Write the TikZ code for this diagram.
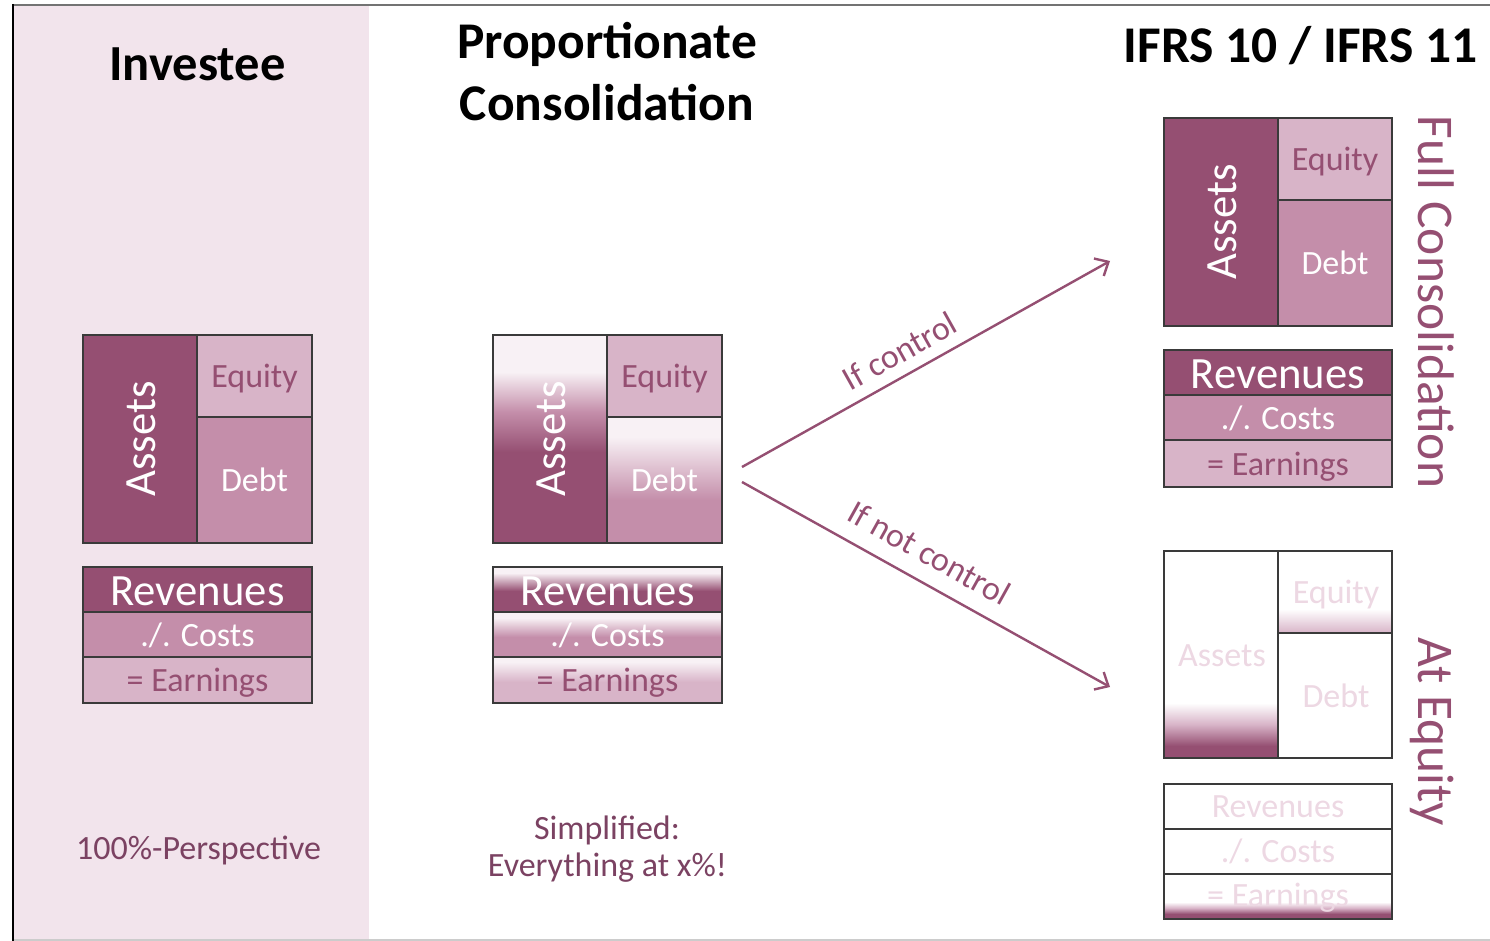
\documentclass[tikz,border=0pt]{standalone}
\usepackage{fontspec}
\setmainfont{Carlito}
\usetikzlibrary{arrows.meta}
\definecolor{dk}{HTML}{954F72}
\definecolor{md}{HTML}{C48EAA}
\definecolor{lt}{HTML}{D8B4C8}
\definecolor{wh}{HTML}{F8F1F5}
\definecolor{panel}{HTML}{F2E4EC}
\definecolor{fade}{HTML}{EDD8E3}
\definecolor{txt}{HTML}{7B4262}
\definecolor{edge}{HTML}{3A3A3A}
\tikzset{
  lbl/.style={inner sep=0pt, text height=21.9pt, text depth=0pt, font=\fontsize{34}{41}\selectfont},
  lblbig/.style={inner sep=0pt, text height=28.8pt, text depth=0pt, font=\fontsize{44.7}{54}\selectfont},
  vlbl/.style={inner sep=0pt, text height=33.2pt, text depth=0pt, font=\fontsize{51.5}{62}\selectfont, text=dk},
  ttl/.style={inner sep=0pt, text height=33.2pt, text depth=0pt, font=\fontsize{51.5}{62}\selectfont\bfseries, text=black},
  cellline/.style={draw=edge, line width=1.6pt},
  arr/.style={draw=dk, line width=2.4pt, -{Straight Barb[length=11pt,width=20pt,line width=2.4pt]}},
  arrlbl/.style={inner sep=0pt, font=\fontsize{34}{40}\selectfont, text=dk, sloped}
}
\begin{document}
\begin{tikzpicture}[x=1pt,y=-1pt]
\useasboundingbox (0,0) rectangle (1490,941);
% panel and frame
\fill[panel] (13,5) rectangle (369,940);
\draw[black!55, line width=2pt] (13,5) -- (1490,5);
\draw[black!20, line width=2pt] (13,940) -- (1490,940);
\draw[black, line width=2pt] (13,4) -- (13,941);

% titles
\node[ttl, font=\fontsize{50.5}{61}\selectfont\bfseries] (tInv) at (197.5,63.5) {Investee};
\node[ttl] (tProp1) at (607,41.5) {Proportionate};
\node[ttl] (tProp2) at (607,103.5) {Consolidation};
\node[ttl] (tIfrs) at (1300.5,46) {IFRS 10 / IFRS 11};

% ===== Column 1: Investee =====
\fill[dk] (83,335) rectangle (197,543);
\fill[lt] (197,335) rectangle (312,417);
\fill[md] (197,417) rectangle (312,543);
\fill[dk] (83,567) rectangle (312,612);
\fill[md] (83,612) rectangle (312,657);
\fill[lt] (83,657) rectangle (312,703);
\draw[cellline] (83,335) rectangle (312,543) (197,335) -- (197,543) (197,417) -- (312,417);
\draw[cellline] (83,567) rectangle (312,703) (83,612) -- (312,612) (83,657) -- (312,657);
\node[lblbig, text=white, rotate=90] (iAssets) at (141,439) {Assets};
\node[lbl, text=dk] (iEq) at (254.5,377) {Equity};
\node[lbl, text=white] (iDebt) at (254.5,480.5) {Debt};
\node[lblbig, text=white] (iRev) at (197.5,591) {Revenues};
\node[lbl, text=white] (iCost) at (197.5,635.5) {./. Costs};
\node[lbl, text=dk] (iEarn) at (197.5,681) {= Earnings};
\node[lbl, text=txt] (iPersp) at (198.5,849) {100\%-Perspective};

% ===== Column 2: Proportionate =====
\fill[wh] (493,335) rectangle (607,372);
\shade[top color=wh, bottom color=dk, middle color=md] (493,372) rectangle (607,452);
\fill[dk] (493,452) rectangle (607,543);
\fill[lt] (607,335) rectangle (722,417);
\fill[wh] (607,417) rectangle (722,437);
\shade[top color=wh, bottom color=md] (607,437) rectangle (722,500);
\fill[md] (607,500) rectangle (722,543);
\fill[wh] (493,567) rectangle (722,573);
\shade[top color=wh, bottom color=dk] (493,573) rectangle (722,591);
\fill[dk] (493,591) rectangle (722,612);
\fill[wh] (493,612) rectangle (722,618);
\shade[top color=wh, bottom color=md] (493,618) rectangle (722,637);
\fill[md] (493,637) rectangle (722,657);
\fill[wh] (493,657) rectangle (722,662);
\shade[top color=wh, bottom color=lt] (493,662) rectangle (722,682);
\fill[lt] (493,682) rectangle (722,703);
\draw[cellline] (493,335) rectangle (722,543) (607,335) -- (607,543) (607,417) -- (722,417);
\draw[cellline] (493,567) rectangle (722,703) (493,612) -- (722,612) (493,657) -- (722,657);
\node[lblbig, text=white, rotate=90] (pAssets) at (551,439) {Assets};
\node[lbl, text=dk] (pEq) at (664.5,377) {Equity};
\node[lbl, text=white] (pDebt) at (664.5,480.5) {Debt};
\node[lblbig, text=white] (pRev) at (607.5,591) {Revenues};
\node[lbl, text=white] (pCost) at (607.5,635.5) {./. Costs};
\node[lbl, text=dk] (pEarn) at (607.5,681) {= Earnings};
\node[lbl, text=txt] (pSimp1) at (607,829) {Simplified:};
\node[lbl, text=txt] (pSimp2) at (607.5,866) {Everything at x\%!};

% ===== Column 3: Full consolidation =====
\fill[dk] (1164,118) rectangle (1278,326);
\fill[lt] (1278,118) rectangle (1392,200);
\fill[md] (1278,200) rectangle (1392,326);
\fill[dk] (1164,350) rectangle (1392,395);
\fill[md] (1164,395) rectangle (1392,440);
\fill[lt] (1164,440) rectangle (1392,487);
\draw[cellline] (1164,118) rectangle (1392,326) (1278,118) -- (1278,326) (1278,200) -- (1392,200);
\draw[cellline] (1164,350) rectangle (1392,487) (1164,395) -- (1392,395) (1164,440) -- (1392,440);
\node[lblbig, text=white, rotate=90] (fAssets) at (1222,222) {Assets};
\node[lbl, text=dk] (fEq) at (1335,160) {Equity};
\node[lbl, text=white] (fDebt) at (1335,263.5) {Debt};
\node[lblbig, text=white] (fRev) at (1278,374) {Revenues};
\node[lbl, text=white] (fCost) at (1278,418.5) {./. Costs};
\node[lbl, text=dk] (fEarn) at (1278,464.5) {= Earnings};
\node[vlbl, rotate=-90] (fTitle) at (1435,302) {Full Consolidation};

% ===== Column 4: At equity =====
\fill[white] (1164,551) rectangle (1392,758);
\shade[top color=white, bottom color=dk, middle color=lt] (1164,703) rectangle (1278,746);
\fill[dk] (1164,746) rectangle (1278,758);
\shade[top color=white, bottom color=lt] (1278,609) rectangle (1392,633);
\shade[top color=white, bottom color=dk, middle color=lt] (1164,902) rectangle (1392,914);
\fill[dk] (1164,914) rectangle (1392,919);
\draw[cellline] (1164,551) rectangle (1392,758) (1278,551) -- (1278,758) (1278,633) -- (1392,633);
\draw[cellline] (1164,784) rectangle (1392,919) (1164,829) -- (1392,829) (1164,874) -- (1392,874);
\node[lbl, text=fade] (eAssets) at (1222,656) {Assets};
\node[lbl, text=fade] (eEq) at (1336,593) {Equity};
\node[lbl, text=fade] (eDebt) at (1336,697) {Debt};
\node[lbl, text=fade] (eRev) at (1278,807) {Revenues};
\node[lbl, text=fade] (eCost) at (1278,852) {./. Costs};
\node[lbl, text=fade] (eEarn) at (1278,896) {= Earnings};
\node[vlbl, rotate=-90] (eTitle) at (1435,732) {At Equity};

% ===== Arrows =====
\coordinate (fromU) at (742,467);
\coordinate (toU) at (1110,261);
\coordinate (fromL) at (742,482);
\coordinate (toL) at (1110,687);
\draw[arr] (fromU) -- node[arrlbl, above=11pt, pos=0.46] (lCtrl) {If control} (toU);
\draw[arr] (fromL) -- node[arrlbl, above=16pt, pos=0.47] (lNoCtrl) {If not control} (toL);
\end{tikzpicture}
\end{document}
